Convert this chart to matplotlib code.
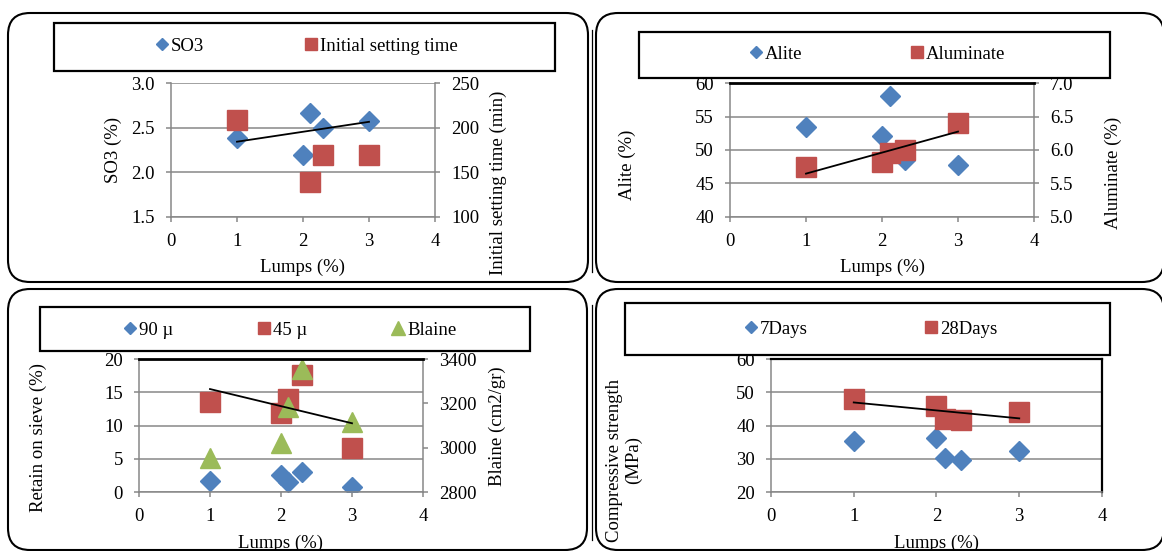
import matplotlib.pyplot as plt
import matplotlib.transforms as mtransforms
import numpy as np
from matplotlib.lines import Line2D
from matplotlib.patches import FancyBboxPatch, Rectangle
from matplotlib.ticker import FormatStrFormatter

plt.rcParams["font.family"] = ["Liberation Serif", "DejaVu Serif"]
plt.rcParams["font.size"] = 13.5

# data
lumps = [1, 2, 2.1, 2.3, 3]
so3 = [2.38, 2.19, 2.67, 2.50, 2.58]
lumps_setting = [1, 2.1, 2.3, 3]
setting_time = [209, 139, 169, 169]
alite = [53.4, 52.1, 58.1, 48.5, 47.8]
aluminate = [5.75, 5.82, 5.96, 6.00, 6.40]
sieve_90 = [1.7, 2.6, 1.6, 3.1, 0.85]
sieve_45 = [13.5, 11.9, 14.0, 17.6, 6.6]
blaine = [2955, 3020, 3185, 3355, 3118]
strength_7d = [35.5, 36.2, 30.2, 29.7, 32.4]
strength_28d = [48.1, 45.9, 42.0, 41.7, 44.2]

BLUE = "#4F81BD"
RED = "#C0504D"
GREEN = "#9BBB59"
GRAY = "#878787"
FS = 13.5

W, H = 1162, 551
fig = plt.figure(figsize=(W / 100, H / 100), dpi=100)

# full-figure pixel canvases: one under the charts (frames), one above (legend boxes)
bg = fig.add_axes([0, 0, 1, 1], zorder=-1)
fg = fig.add_axes([0, 0, 1, 1], zorder=10)
for canvas in (bg, fg):
    canvas.set_xlim(0, W)
    canvas.set_ylim(H, 0)
    canvas.axis("off")

MARK = {
    "D": dict(marker="D", markersize=9.7),
    "s": dict(marker="s", markersize=14.4),
    "^": dict(marker="^", markersize=15),
}
LEG_MARK = {"D": 6.1, "s": 9, "^": 9.5}


def add_axes_px(left, top, right, bottom):
    return fig.add_axes([left / W, 1 - bottom / H, (right - left) / W, (bottom - top) / H])


def frame(left, top, right, bottom):
    bg.add_patch(FancyBboxPatch((left, top), right - left, bottom - top,
                                boxstyle="round,pad=0,rounding_size=22",
                                fc="white", ec="black", lw=1.5))


def legend_box(left, top, right, bottom, marker_x, y, entries, spacing):
    fg.add_patch(Rectangle((left, top), right - left, bottom - top,
                           fc="white", ec="black", lw=1.6))
    handles = [Line2D([], [], ls="none", marker=m, color=c, markersize=LEG_MARK[m])
               for m, c, _ in entries]
    labels = [t for _, _, t in entries]
    hl = 0.6
    leg = fig.legend(handles, labels, loc="center left",
                     bbox_to_anchor=(marker_x - hl * FS * 100 / 72 / 2, y),
                     bbox_transform=bg.transData, ncol=len(entries), frameon=False,
                     borderpad=0, borderaxespad=0, handlelength=hl, handletextpad=0.18,
                     columnspacing=spacing, fontsize=FS)
    leg.set_zorder(20)


def style(ax, grid=True):
    for sp in ax.spines.values():
        sp.set_color(GRAY)
        sp.set_linewidth(1.1)
    ax.tick_params(colors="black", length=3.5, width=1.1, pad=8, labelsize=FS)
    ax.tick_params(axis="both", color=GRAY)
    ax.set_xlim(0, 4)
    ax.set_xticks([0, 1, 2, 3, 4])
    if grid:
        ax.yaxis.grid(True, color=GRAY, lw=1.1)
        ax.set_axisbelow(True)


def label(axis, text, x, y, **kw):
    axis.set_label_text(text, ha="center", va="center", fontsize=FS, **kw)
    axis.set_label_coords(x, y, transform=bg.transData)


def xlabel(ax, y):
    ax.set_xlabel("Lumps (%)", ha="center", va="center", fontsize=FS)
    tr = mtransforms.blended_transform_factory(ax.transAxes, bg.transData)
    ax.xaxis.set_label_coords(0.5, y, transform=tr)


def trend(ax_draw, ax_data, x, y):
    coef = np.polyfit(x, y, 1)
    xs = np.array([min(x), max(x)])
    ax_draw.plot(xs, np.polyval(coef, xs), color="black", lw=1.3,
                 transform=ax_data.transData, zorder=6)


def twin_spines(ax, ax2, top_black):
    ax.spines["right"].set_visible(False)
    ax.spines["top"].set_visible(False)
    ax2.spines["left"].set_visible(False)
    ax2.spines["bottom"].set_visible(False)
    if top_black:
        ax2.spines["top"].set_color("black")
        ax2.spines["top"].set_linewidth(2)
    else:
        ax2.spines["top"].set_visible(False)


# frames
frame(8, 13, 588, 282)
frame(596, 13, 1164, 282)
frame(8, 289, 587, 550)
frame(596, 289, 1164, 550)
bg.plot([592, 592], [30, 272], color="black", lw=0.9)
bg.plot([592, 592], [305, 540], color="black", lw=0.9)

# ---- panel 1: SO3 / initial setting time
ax = add_axes_px(171, 83.3, 435, 216.7)
ax2 = ax.twinx()
style(ax)
style(ax2, grid=False)
twin_spines(ax, ax2, top_black=False)
ax.plot(lumps, so3, ls="none", color=BLUE, **MARK["D"])
ax2.plot(lumps_setting, setting_time, ls="none", color=RED, **MARK["s"])
trend(ax2, ax, lumps, so3)
ax.set_ylim(1.5, 3.0)
ax.set_yticks([1.5, 2.0, 2.5, 3.0])
ax.yaxis.set_major_formatter(FormatStrFormatter("%.1f"))
ax2.set_ylim(100, 250)
ax2.set_yticks([100, 150, 200, 250])
label(ax.yaxis, "SO3 (%)", 113, 150)
label(ax2.yaxis, "Initial setting time (min)", 498, 183)
xlabel(ax, 267)
legend_box(54, 22.7, 555, 70.7, 162, 46,
           [("D", BLUE, "SO3"), ("s", RED, "Initial setting time")], 5.4)

# ---- panel 2: alite / aluminate
ax = add_axes_px(730, 83.3, 1034, 216.7)
ax2 = ax.twinx()
style(ax)
style(ax2, grid=False)
twin_spines(ax, ax2, top_black=True)
ax.plot(lumps, alite, ls="none", color=BLUE, **MARK["D"])
ax2.plot(lumps, aluminate, ls="none", color=RED, **MARK["s"])
trend(ax2, ax2, lumps, aluminate)
ax.set_ylim(40, 60)
ax.set_yticks([40, 45, 50, 55, 60])
ax2.set_ylim(5.0, 7.0)
ax2.set_yticks([5.0, 5.5, 6.0, 6.5, 7.0])
ax2.yaxis.set_major_formatter(FormatStrFormatter("%.1f"))
label(ax.yaxis, "Alite (%)", 627, 165)
label(ax2.yaxis, "Aluminate (%)", 1113, 173)
xlabel(ax, 267)
legend_box(639, 31.7, 1110, 78.3, 756, 54,
           [("D", BLUE, "Alite"), ("s", RED, "Aluminate")], 5.8)

# ---- panel 3: sieve residue / Blaine
ax = add_axes_px(139, 359, 423, 492.3)
ax2 = ax.twinx()
style(ax)
style(ax2, grid=False)
twin_spines(ax, ax2, top_black=True)
ax.plot(lumps, sieve_90, ls="none", color=BLUE, **MARK["D"])
ax.plot(lumps, sieve_45, ls="none", color=RED, **MARK["s"])
ax2.plot(lumps, blaine, ls="none", color=GREEN, **MARK["^"])
trend(ax2, ax, lumps, sieve_45)
ax.set_ylim(0, 20)
ax.set_yticks([0, 5, 10, 15, 20])
ax2.set_ylim(2800, 3400)
ax2.set_yticks([2800, 3000, 3200, 3400])
label(ax.yaxis, "Retain on sieve (%)", 38, 438)
label(ax2.yaxis, "Blaine (cm2/gr)", 497, 426)
xlabel(ax, 543)
legend_box(40, 306.7, 530, 350.7, 130, 330,
           [("D", BLUE, "90 µ"), ("s", RED, "45 µ"), ("^", GREEN, "Blaine")], 4.55)

# ---- panel 4: compressive strength
ax = add_axes_px(771, 359, 1102, 492.3)
style(ax)
for side in ("top", "right"):
    ax.spines[side].set_color("black")
    ax.spines[side].set_linewidth(1.6)
ax.tick_params(right=False, top=False)
ax.plot(lumps, strength_7d, ls="none", color=BLUE, **MARK["D"])
ax.plot(lumps, strength_28d, ls="none", color=RED, **MARK["s"])
trend(ax, ax, lumps, strength_28d)
ax.set_ylim(20, 60)
ax.set_yticks([20, 30, 40, 50, 60])
label(ax.yaxis, "Compressive strength\n(MPa)", 624, 460, linespacing=1.15)
xlabel(ax, 543)
legend_box(625, 303, 1110, 355, 750.6, 329,
           [("D", BLUE, "7Days"), ("s", RED, "28Days")], 6.3)

fig.savefig("out.png", dpi=100)
